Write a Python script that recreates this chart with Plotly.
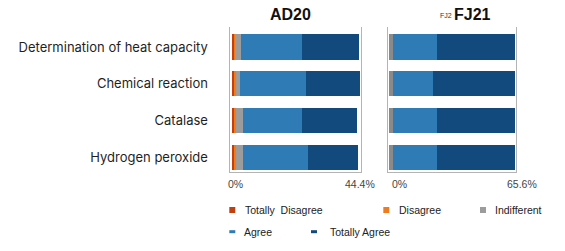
import plotly.graph_objects as go

# ---------------- data ----------------
categories = ["Determination of heat capacity", "Chemical reaction", "Catalase", "Hydrogen peroxide"]
series_names = ["Totally\u00a0 Disagree", "Disagree", "Indifferent", "Agree", "Totally Agree"]
series_colors = ["#c0400f", "#f07b1c", "#9c9c9c", "#2e7bb5", "#134a7e"]
fj21_series_colors = ["#c0400f", "#f07b1c", "#8a8a8a", "#2e7bb5", "#134a7e"]

ad20_totally_disagree = [1.5, 1.5, 1.8, 1.8]
ad20_disagree = [1.2, 1.5, 1.0, 1.5]
ad20_indifferent = [4.3, 3.5, 5.5, 5.3]
ad20_agree = [47.5, 51.5, 46.6, 51.0]
ad20_totally_agree = [44.5, 42.0, 42.5, 38.8]

fj21_totally_disagree = [0, 0, 0, 0]
fj21_disagree = [0, 0, 0, 0]
fj21_indifferent = [2.9, 2.9, 2.9, 2.9]
fj21_agree = [34.7, 31.5, 34.7, 34.7]
fj21_totally_agree = [61.8, 64.8, 61.6, 61.6]

ad20_tick_labels = ["0%", "44.4%"]
fj21_tick_labels = ["0%", "65.6%"]
panel_titles = ["AD20", "FJ21"]
fj21_small_label = "FJ2"

# ---------------- figure ----------------
W, H = 565, 251
fig = go.Figure()

ad20_series = [ad20_totally_disagree, ad20_disagree, ad20_indifferent, ad20_agree, ad20_totally_agree]
fj21_series = [fj21_totally_disagree, fj21_disagree, fj21_indifferent, fj21_agree, fj21_totally_agree]

for vals, name, color in zip(ad20_series, series_names, series_colors):
    fig.add_trace(go.Bar(y=categories, x=vals, name=name, orientation="h",
                         marker=dict(color=color, line=dict(width=0)),
                         width=0.68, xaxis="x", yaxis="y", showlegend=False,
                         hoverinfo="skip"))
for vals, name, color in zip(fj21_series, series_names, fj21_series_colors):
    fig.add_trace(go.Bar(y=categories, x=vals, name=name, orientation="h",
                         marker=dict(color=color, line=dict(width=0)),
                         width=0.68, xaxis="x2", yaxis="y2", showlegend=False,
                         hoverinfo="skip"))

def px(x):
    return x / W

def py(y):
    return 1 - y / H

frame_color = "#b4b4b4"
ydom = [py(171.7), py(27)]
yrange = [-0.386, 3.543]

axis_common = dict(showgrid=False, zeroline=False, showticklabels=False, ticks="",
                   showline=True, linecolor=frame_color, linewidth=1, fixedrange=True)

fig.update_layout(
    width=W, height=H,
    margin=dict(l=0, r=0, t=0, b=0),
    paper_bgcolor="white", plot_bgcolor="white",
    barmode="stack", bargap=0.32,
    showlegend=False,
    xaxis=dict(domain=[px(229.5), px(360.5)], range=[-1.95, 100.4], anchor="y", **axis_common),
    xaxis2=dict(domain=[px(388), px(516)], range=[-0.79, 100], anchor="y2", **axis_common),
    yaxis=dict(domain=ydom, type="category", categoryorder="array",
               categoryarray=categories[::-1], range=yrange, anchor="x",
               showline=True, mirror=True, linecolor=frame_color, linewidth=1,
               showgrid=False, zeroline=False, ticks="", fixedrange=True,
               ticklabelstandoff=18,
               tickfont=dict(family="Inter", size=13, color="#1f1f1f")),
    yaxis2=dict(domain=ydom, type="category", categoryorder="array",
                categoryarray=categories[::-1], range=yrange, anchor="x2",
                showline=True, mirror=True, linecolor=frame_color, linewidth=1,
                showgrid=False, zeroline=False, ticks="", showticklabels=False,
                fixedrange=True),
)

annotations = []
title_font = dict(family="Liberation Sans", size=16, color="#111111")
annotations.append(dict(text="<b>%s</b>" % panel_titles[0], x=px(290), y=py(15), xref="paper", yref="paper",
                        xanchor="center", yanchor="middle", showarrow=False, font=title_font))
annotations.append(dict(text="<b>%s</b>" % panel_titles[1], x=px(472.5), y=py(15), xref="paper", yref="paper",
                        xanchor="center", yanchor="middle", showarrow=False, font=title_font))
annotations.append(dict(text=fj21_small_label, x=px(446), y=py(16), xref="paper", yref="paper",
                        xanchor="center", yanchor="middle", showarrow=False,
                        font=dict(family="Liberation Sans", size=7, color="#333333")))

tick_font = dict(family="Liberation Sans", size=10.5, color="#444444")
for label, cx in zip(ad20_tick_labels, [235, 360]):
    annotations.append(dict(text=label, x=px(cx), y=py(183.5), xref="paper", yref="paper",
                            xanchor="center", yanchor="middle", showarrow=False, font=tick_font))
for label, cx in zip(fj21_tick_labels, [399, 522]):
    annotations.append(dict(text=label, x=px(cx), y=py(183.5), xref="paper", yref="paper",
                            xanchor="center", yanchor="middle", showarrow=False, font=tick_font))

# manual legend
legend_font = dict(family="Liberation Sans", size=10.5, color="#222222")
legend_layout = [  # (marker left x, text left x, row y, marker height)
    (229.3, 242.5, 210.0, 6),
    (383.3, 397.3, 210.0, 6),
    (480.0, 492.7, 210.0, 6),
    (229.3, 242.3, 231.7, 3),
    (311.0, 328.3, 231.7, 3),
]
shapes = []
for (mx, tx, ry, mh), name, color in zip(legend_layout, series_names, series_colors):
    shapes.append(dict(type="rect", xref="paper", yref="paper",
                       x0=px(mx), x1=px(mx + 6), y0=py(ry + mh / 2), y1=py(ry - mh / 2),
                       fillcolor=color, line=dict(width=0)))
    annotations.append(dict(text=name, x=px(tx), y=py(ry), xref="paper", yref="paper",
                            xanchor="left", yanchor="middle", showarrow=False, font=legend_font))

fig.update_layout(annotations=annotations, shapes=shapes)

fig.write_html("out.html",
               config=dict(displayModeBar=False, staticPlot=True),
               post_script="document.body.style.margin='0';document.body.style.padding='0';")
